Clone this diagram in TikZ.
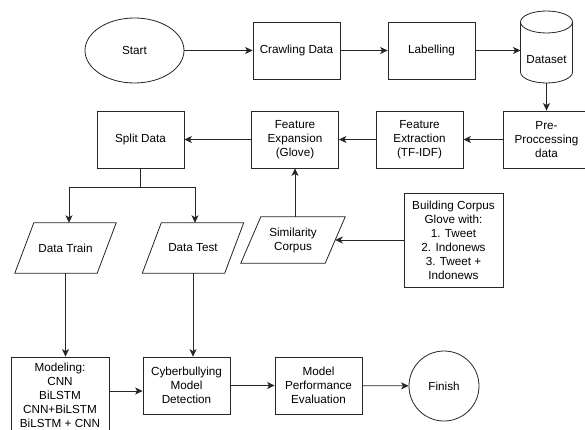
\documentclass[tikz,border=0pt]{standalone}
\usepackage{fontspec}
\setmainfont{Liberation Sans}
\usetikzlibrary{arrows.meta,shapes.geometric}
\newcommand\diagfont{\fontsize{11.7}{14}\selectfont}
\begin{document}
\begin{tikzpicture}[x=1pt,y=-1pt,
  ln/.style={draw=black!85, line width=0.8pt},
  arr/.style={ln, -{Stealth[length=7.5pt,width=7pt,inset=2pt]}},
  box/.style={draw=black!85, line width=0.8pt, minimum width=87pt, minimum height=57pt,
              inner sep=1pt, align=center, font=\diagfont},
  txt/.style={inner sep=0pt, align=center, font=\diagfont, minimum width=82pt, minimum height=50pt}]
\useasboundingbox (0,0) rectangle (585,430);
\fill[white] (0,0) rectangle (585,430);
\clip (0,0) rectangle (585,430);

% row 1
\node[ellipse, draw=black!85, line width=0.8pt, inner sep=0pt, minimum width=99pt, minimum height=65pt, font=\diagfont] (start) at (134.5,50.5) {Start};
\node[box] (crawl) at (296.5,50.5) {Crawling Data};
\node[box] (label) at (431.5,50.5) {Labelling};
% dataset cylinder
\draw[ln] (520.5,22) -- (520.5,72) arc[start angle=180, end angle=360, x radius=26pt, y radius=11pt] -- (572.5,22);
\draw[ln] (546.5,22) ellipse[x radius=26pt, y radius=11pt];
\node[inner sep=0pt, font=\diagfont] (ds) at (546.5,60) {Dataset};
\coordinate (dsL) at (520.5,50.5);
\coordinate (dsB) at (546.5,83);

% row 2
\node[box] (pre) at (546.5,139.5) {Pre-\\Proccessing\\data};
\node[box] (fext) at (419.5,139.5) {Feature\\Extraction\\(TF-IDF)};
\node[box] (fexp) at (295,139.5) {Feature\\Expansion\\(Glove)};
\node[box] (split) at (140.5,139.5) {Split Data};

% parallelograms
\node[txt] (train) at (65.5,248) {Data Train};
\node[txt] (test) at (193,248) {Data Test};
\node[txt, minimum width=84pt, minimum height=46pt] (sim) at (293,240) {Similarity\\Corpus};
\draw[ln] ([xshift=9.5pt]train.north west) -- ([xshift=9.5pt]train.north east) -- ([xshift=-9.5pt]train.south east) -- ([xshift=-9.5pt]train.south west) -- cycle;
\draw[ln] ([xshift=9.5pt]test.north west) -- ([xshift=9.5pt]test.north east) -- ([xshift=-9.5pt]test.south east) -- ([xshift=-9.5pt]test.south west) -- cycle;
\draw[ln] ([xshift=10pt]sim.north west) -- ([xshift=10pt]sim.north east) -- ([xshift=-10pt]sim.south east) -- ([xshift=-10pt]sim.south west) -- cycle;

\node[box, minimum width=99pt, minimum height=94pt] (build) at (453.5,240) {Building Corpus\\Glove with:\\1. Tweet\\2. Indonews\\3. Tweet +\\Indonews};

% bottom row
\node[box, minimum width=98pt, minimum height=77pt] (model) at (60,395.5) {Modeling:\\CNN\\BiLSTM\\CNN+BiLSTM\\BiLSTM + CNN};
\node[box] (cyber) at (186.5,385.5) {Cyberbullying\\Model\\Detection};
\node[box] (perf) at (318.5,385.5) {Model\\Performance\\Evaluation};
\node[circle, draw=black!85, line width=0.8pt, inner sep=0pt, minimum size=70pt, font=\diagfont] (finish) at (444,386) {Finish};

% connectors
\draw[arr] (start) -- (crawl);
\draw[arr] (crawl) -- (label);
\draw[arr] (label.east) -- (dsL);
\draw[arr] (dsB) -- (pre.north);
\draw[arr] (pre) -- (fext);
\draw[arr] (fext) -- (fexp);
\draw[arr] (fexp) -- (split);
\coordinate (splitJ) at (140.5,187);
\coordinate (jL) at (69,187);
\coordinate (jR) at (195,187);
\draw[ln] (split.south) -- (splitJ);
\draw[arr] (splitJ) -- (jL) -- (jL |- train.north);
\draw[arr] (splitJ) -- (jR) -- (jR |- test.north);
\draw[arr] (fexp.south |- sim.north) -- (fexp.south);
\draw[arr] (build.west) -- (sim.east);
\draw[arr] (train.south) -- (train.south |- model.north);
\draw[arr] (test.south) -- (test.south |- cyber.north);
\draw[arr] ([yshift=4.5pt]model.east) -- ([yshift=4.5pt]model.east -| cyber.west);
\draw[arr] (cyber) -- (perf);
\draw[arr] (perf) -- (finish);
\end{tikzpicture}
\end{document}
